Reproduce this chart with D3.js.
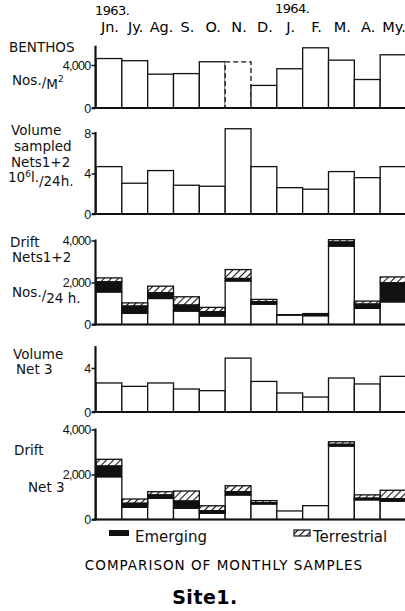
<!DOCTYPE html>
<html>
<head>
<meta charset="utf-8">
<script src="https://cdn.jsdelivr.net/npm/d3@7"></script>
<style>
  body { margin: 0; background: #fff; }
  svg { display: block; font-family: "DejaVu Sans", sans-serif; }
  .lbl { font-size: 13.5px; fill: #111; }
  .tick text { font-size: 12.5px; fill: #111; }
</style>
</head>
<body>
<svg id="chart"></svg>
<script>
const months = ["Jn.", "Jy.", "Ag.", "S.", "O.", "N.", "D.", "J.", "F.", "M.", "A.", "My."];

const benthos = [4600, 4400, 3150, 3200, 4300, 4300, 2100, 3650, 5600, 4450, 2650, 4950];
const volNets12 = [4.68, 3.04, 4.29, 2.84, 2.74, 8.42, 4.68, 2.6, 2.45, 4.19, 3.59, 4.68];
const drift12Other = [1550, 530, 1240, 640, 400, 2075, 970, 450, 420, 3735, 770, 1080];
const drift12Emerging = [480, 345, 265, 285, 205, 115, 110, 20, 100, 190, 200, 900];
const drift12Terrestrial = [190, 155, 320, 395, 210, 425, 115, 0, 0, 115, 145, 285];
const volNet3 = [2.64, 2.33, 2.64, 2.09, 1.94, 4.9, 2.78, 1.73, 1.36, 3.09, 2.55, 3.24];
const drift3Other = [1900, 540, 940, 500, 275, 1090, 690, 380, 615, 3265, 875, 815];
const drift3Emerging = [475, 180, 150, 320, 115, 145, 60, 0, 0, 75, 70, 105];
const drift3Terrestrial = [300, 190, 145, 445, 220, 265, 90, 0, 0, 115, 150, 380];

const W = 405, H = 611;
const svg = d3.select("#chart").attr("width", W).attr("height", H);

// hatch for terrestrial
const defs = svg.append("defs");
defs.append("pattern")
    .attr("id", "hatch")
    .attr("width", 5).attr("height", 5)
    .attr("patternUnits", "userSpaceOnUse")
    .attr("patternTransform", "rotate(45)")
  .append("line")
    .attr("x1", 0).attr("y1", 0).attr("x2", 0).attr("y2", 5)
    .attr("stroke", "#111").attr("stroke-width", 2.2);

const x = d3.scaleBand().domain(months).range([96, 406]).padding(0);
const axisX = 95.5;

// month labels
svg.append("g").selectAll("text")
   .data(months)
   .enter()
   .append("text")
   .attr("x", d => x(d) + x.bandwidth() / 2 + 1)
   .attr("y", 32)
   .attr("text-anchor", "middle")
   .style("font-size", "14.5px")
   .text(d => d);
svg.append("text").attr("x", 95).attr("y", 15).style("font-size", "13px").style("letter-spacing", "-0.6px").text("1963.");
svg.append("text").attr("x", 275).attr("y", 13).style("font-size", "13px").style("letter-spacing", "-0.6px").text("1964.");

function panel(cfg) {
  const y = d3.scaleLinear().domain(cfg.domain).range(cfg.range);
  const g = svg.append("g");

  if (cfg.stack) {
    const rows = months.map((m, i) => ({ m: m, other: cfg.stack[0][i], emerging: cfg.stack[1][i], terrestrial: cfg.stack[2][i] }));
    const series = d3.stack().keys(["other", "emerging", "terrestrial"])(rows);
    const fills = { other: "#fff", emerging: "#111", terrestrial: "url(#hatch)" };
    series.forEach(s => {
      g.selectAll(".seg-" + s.key)
       .data(s.filter(d => d[1] > d[0]))
       .enter()
       .append("rect")
       .attr("x", d => x(d.data.m))
       .attr("width", x.bandwidth())
       .attr("y", d => y(d[1]))
       .attr("height", d => y(d[0]) - y(d[1]))
       .attr("fill", fills[s.key])
       .attr("stroke", "#111")
       .attr("stroke-width", 1.3);
    });
  } else {
    g.selectAll(".bar")
     .data(cfg.values)
     .enter()
     .append("rect")
     .attr("x", (d, i) => x(months[i]))
     .attr("width", x.bandwidth())
     .attr("y", d => y(d))
     .attr("height", d => y(0) - y(d))
     .attr("fill", "#fff")
     .attr("stroke", "#111")
     .attr("stroke-width", 1.3)
     .attr("stroke-dasharray", (d, i) => cfg.dashed && cfg.dashed.includes(i) ? "5,3" : null);
  }

  // axis
  const ax = g.append("g")
     .attr("transform", `translate(${axisX},0)`)
     .call(d3.axisLeft(y).tickValues(cfg.ticks).tickSize(4).tickPadding(1).tickFormat(d3.format(",")));
  ax.select(".domain").remove();
  ax.selectAll(".tick line").attr("stroke", "#111").attr("stroke-width", 1.5);
  ax.selectAll(".tick text").style("letter-spacing", "-0.7px");
  g.append("line")
   .attr("x1", axisX).attr("x2", axisX)
   .attr("y1", y(cfg.top) - 1).attr("y2", y(0) + 1)
   .attr("stroke", "#111").attr("stroke-width", 2.2);
  g.append("line")
   .attr("x1", 92).attr("x2", 406)
   .attr("y1", y(0)).attr("y2", y(0))
   .attr("stroke", "#111").attr("stroke-width", 2.2);

  cfg.labels.forEach(l => {
    const t = g.append("text").attr("class", "lbl").attr("x", l[0]).attr("y", l[1]);
    if (typeof l[2] === "string") t.text(l[2]);
    else l[2].forEach(p => t.append("tspan").attr("dy", p.dy || 0).style("font-size", p.size || null).text(p.t));
  });
}

panel({
  values: benthos, domain: [0, 4000], range: [108, 65], ticks: [0, 4000], top: 5700, dashed: [5],
  labels: [
    [9, 52, "BENTHOS"],
    [12, 85, [{ t: "Nos." }, { t: "/", dy: 2 }, { t: "M", dy: 2 }, { t: "2", dy: -7, size: "9px" }]]
  ]
});

panel({
  values: volNets12, domain: [0, 8], range: [214, 133], ticks: [0, 4, 8], top: 8,
  labels: [
    [11, 135, "Volume"],
    [14, 151, "sampled"],
    [11, 167, "Nets1+2"],
    [8, 182, [{ t: "10" }, { t: "6", dy: -5, size: "9px" }, { t: "l.", dy: 5 }, { t: "/24h.", dy: 4 }]]
  ]
});

panel({
  stack: [drift12Other, drift12Emerging, drift12Terrestrial],
  domain: [0, 4000], range: [324.5, 240.5], ticks: [0, 2000, 4000], top: 4000,
  labels: [
    [10, 247, "Drift"],
    [12, 262, "Nets1+2"],
    [12, 297, [{ t: "Nos." }, { t: "/", dy: 3 }, { t: "24 h.", dy: 3 }]]
  ]
});

panel({
  values: volNet3, domain: [0, 4], range: [412, 368], ticks: [0, 4], top: 5.9,
  labels: [
    [13, 359, "Volume"],
    [16, 374, "Net 3"]
  ]
});

panel({
  stack: [drift3Other, drift3Emerging, drift3Terrestrial],
  domain: [0, 4000], range: [519.5, 429.5], ticks: [0, 2000, 4000], top: 4000,
  labels: [
    [14, 455, "Drift"],
    [28, 492, "Net 3"]
  ]
});

// legend
svg.append("rect").attr("x", 109).attr("y", 530).attr("width", 20).attr("height", 6).attr("fill", "#111");
svg.append("text").attr("class", "lbl").attr("x", 135).attr("y", 542).style("font-size", "15px").text("Emerging");
svg.append("rect").attr("x", 294).attr("y", 530).attr("width", 16).attr("height", 6)
   .attr("fill", "url(#hatch)").attr("stroke", "#111").attr("stroke-width", 1.2);
svg.append("text").attr("class", "lbl").attr("x", 313).attr("y", 542).style("font-size", "15px").text("Terrestrial");

svg.append("text").attr("x", 224).attr("y", 570).attr("text-anchor", "middle")
   .style("font-size", "13.5px").style("letter-spacing", "1px").text("COMPARISON OF MONTHLY SAMPLES");
svg.append("text").attr("x", 205).attr("y", 604).attr("text-anchor", "middle")
   .style("font-size", "19px").style("font-weight", "bold").style("letter-spacing", "0.5px").text("Site1.");
</script>
</body>
</html>
